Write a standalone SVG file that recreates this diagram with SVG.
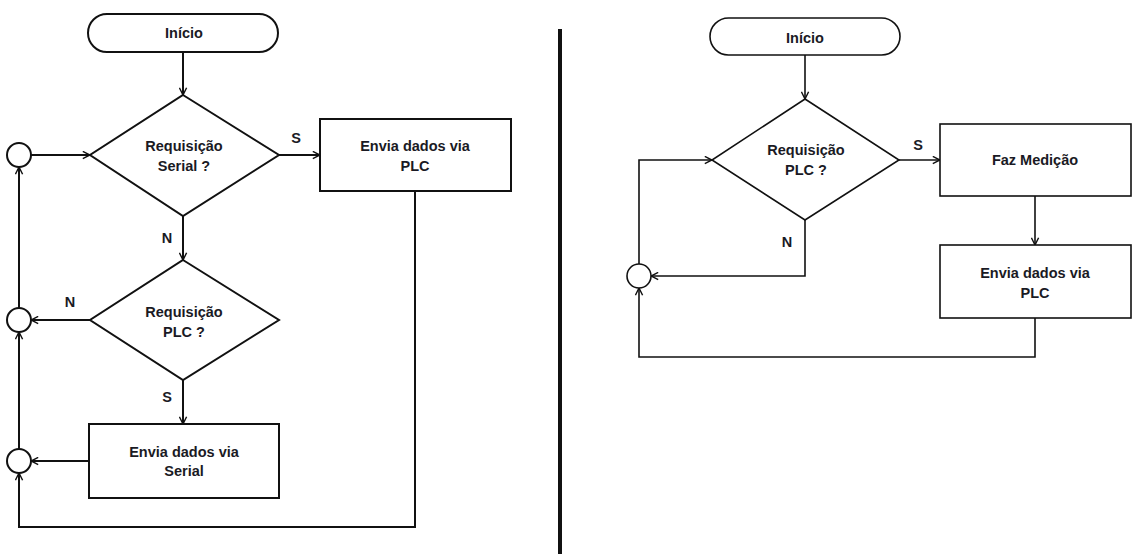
<svg xmlns="http://www.w3.org/2000/svg" width="1146" height="554" viewBox="0 0 1146 554">
<style>
.shape{fill:#fff;stroke:#111;stroke-width:2}
.shapeR{fill:#fff;stroke:#111;stroke-width:1.6}
.t{font-family:"Liberation Sans",Arial,sans-serif;font-weight:bold;font-size:14.5px;fill:#1a1a24;text-anchor:middle}
.c{fill:none;stroke:#111;stroke-width:2}
.cR{fill:none;stroke:#111;stroke-width:1.6}
</style>
<defs>
<marker id="arr" viewBox="0 0 10 10" refX="9" refY="5" markerWidth="9" markerHeight="9" markerUnits="userSpaceOnUse" orient="auto">
<path d="M1,1 L9,5 L1,9" fill="none" stroke="#111" stroke-width="1.6"/>
</marker>
</defs>
<rect width="1146" height="554" fill="#fff"/>
<line x1="560" y1="29" x2="560" y2="554" stroke="#111" stroke-width="4"/>
<g id="connectors">
<path class="c" d="M183,52 V95" marker-end="url(#arr)"/>
<path class="c" d="M31,155 H90" marker-end="url(#arr)"/>
<path class="c" d="M279,155 H320" marker-end="url(#arr)"/>
<path class="c" d="M183,216 V260" marker-end="url(#arr)"/>
<path class="c" d="M90,320 H31" marker-end="url(#arr)"/>
<path class="c" d="M183,380 V424" marker-end="url(#arr)"/>
<path class="c" d="M89,461 H31" marker-end="url(#arr)"/>
<path class="c" d="M415,190 V527 H19 V473" marker-end="url(#arr)"/>
<path class="c" d="M19,449 V332" marker-end="url(#arr)"/>
<path class="c" d="M19,308 V167" marker-end="url(#arr)"/>
<path class="cR" d="M805,55 V99" marker-end="url(#arr)"/>
<path class="cR" d="M899,160 H940" marker-end="url(#arr)"/>
<path class="cR" d="M1035,196 V245" marker-end="url(#arr)"/>
<path class="cR" d="M805,220 V276 H651" marker-end="url(#arr)"/>
<path class="cR" d="M639,264 V160 H712" marker-end="url(#arr)"/>
<path class="cR" d="M1035,318 V357 H639 V288" marker-end="url(#arr)"/>
<text class="t" x="296" y="143">S</text>
<text class="t" x="167" y="243">N</text>
<text class="t" x="70" y="307">N</text>
<text class="t" x="167" y="402">S</text>
<text class="t" x="918" y="150">S</text>
<text class="t" x="787" y="247">N</text>
</g>
<g id="inicio1">
<rect class="shape" x="88" y="14" width="190" height="38" rx="19"/>
<text class="t" x="184" y="38">Início</text>
</g>
<g id="req-serial">
<polygon class="shape" points="183,95 279,155 183,216 90,155"/>
<text class="t" x="184" y="151">Requisição</text>
<text class="t" x="184" y="171">Serial ?</text>
</g>
<g id="envia-plc1">
<rect class="shape" x="320" y="119" width="191" height="72"/>
<text class="t" x="415" y="151">Envia dados via</text>
<text class="t" x="415" y="171">PLC</text>
</g>
<g id="req-plc1">
<polygon class="shape" points="183,260 279,320 183,380 90,320"/>
<text class="t" x="184" y="317">Requisição</text>
<text class="t" x="184" y="337">PLC ?</text>
</g>
<g id="envia-serial">
<rect class="shape" x="89" y="424" width="190" height="74"/>
<text class="t" x="184" y="457">Envia dados via</text>
<text class="t" x="184" y="476">Serial</text>
</g>
<g id="j1"><circle class="shape" cx="19" cy="155" r="12"/></g>
<g id="j2"><circle class="shape" cx="19" cy="320" r="12"/></g>
<g id="j3"><circle class="shape" cx="19" cy="461" r="12"/></g>
<g id="inicio2">
<rect class="shapeR" x="710" y="18" width="190" height="37" rx="18.5"/>
<text class="t" x="805" y="43">Início</text>
</g>
<g id="req-plc2">
<polygon class="shapeR" points="805,99 899,160 805,220 712,160"/>
<text class="t" x="806" y="155">Requisição</text>
<text class="t" x="806" y="175">PLC ?</text>
</g>
<g id="faz-medicao">
<rect class="shapeR" x="940" y="124" width="191" height="72"/>
<text class="t" x="1035" y="165">Faz Medição</text>
</g>
<g id="envia-plc2">
<rect class="shapeR" x="940" y="245" width="191" height="73"/>
<text class="t" x="1035" y="278">Envia dados via</text>
<text class="t" x="1035" y="298">PLC</text>
</g>
<g id="j4"><circle class="shapeR" cx="639" cy="276" r="12"/></g>
</svg>
